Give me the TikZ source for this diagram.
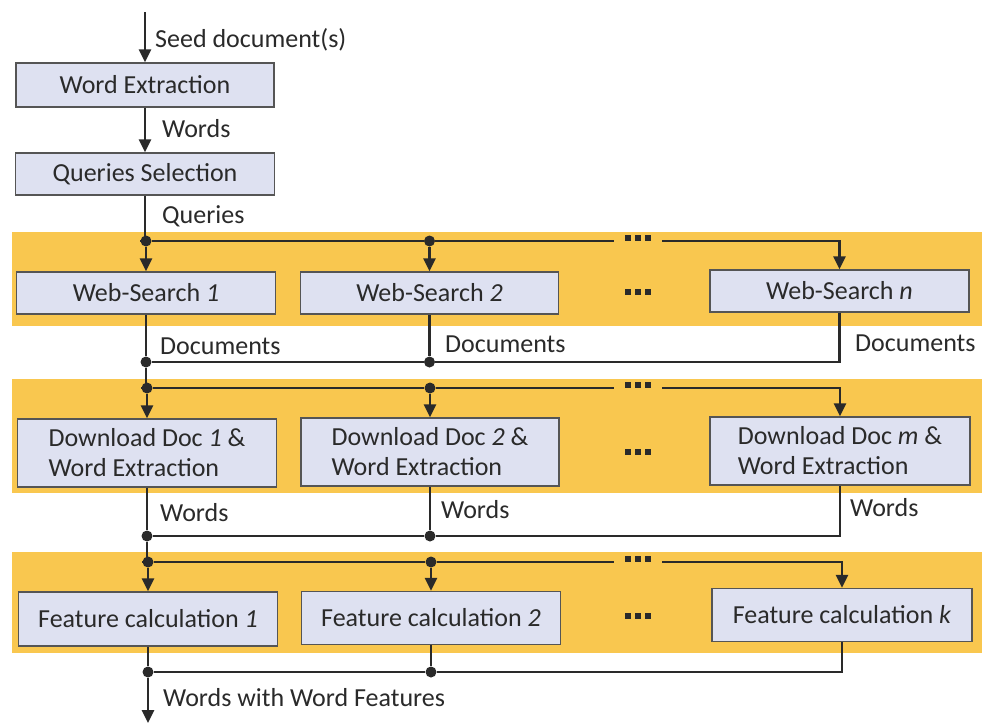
\documentclass[tikz,border=0pt]{standalone}
\usepackage{fontspec}
\setmainfont{Carlito}
\usetikzlibrary{arrows.meta}
\definecolor{bandc}{HTML}{F9C74F}
\definecolor{boxc}{HTML}{DEE1F1}
\definecolor{linec}{HTML}{2A2A2A}
\definecolor{boxd}{HTML}{555555}
\tikzset{
  x=1pt,y=-1pt,
  every node/.style={font=\fontsize{26}{30}\selectfont, text=linec, inner sep=0pt},
  proc/.style={draw=boxd, line width=1.5pt, fill=boxc},
  wire/.style={draw=linec, line width=2.6pt},
  arr/.style={wire, -{Triangle[length=13pt,width=12pt]}},
  jdot/.style={circle, fill=linec, minimum size=11pt, inner sep=0pt},
  lbl/.style={anchor=west},
  band/.style={fill=bandc, draw=none},
  dotsn/.style={inner sep=2pt},
  gapdots/.style={inner xsep=11pt, inner ysep=2pt}
}
\newcommand{\sqdots}{\rule{6pt}{6pt}\hspace{4pt}\rule{6pt}{6pt}\hspace{4pt}\rule{6pt}{6pt}}
\begin{document}
\begin{tikzpicture}
\useasboundingbox (0,0) rectangle (982,724);
\fill[white] (0,0) rectangle (982,724);
% bands
\fill[band] (12,232) rectangle (982,326);
\fill[band] (12,379) rectangle (982,493);
\fill[band] (12,552) rectangle (982,653);
% boxes
\node[proc, minimum width=258pt, minimum height=44pt] (we) at (145,85) {Word Extraction};
\node[proc, minimum width=259pt, minimum height=42pt] (qs) at (145,174) {Queries Selection};
\node[proc, minimum width=259pt, minimum height=42pt] (ws1) at (146,293) {Web-Search \textit{1}};
\node[proc, minimum width=258pt, minimum height=42pt] (ws2) at (429.5,293) {Web-Search \textit{2}};
\node[proc, minimum width=259pt, minimum height=42pt] (wsn) at (839.5,291) {Web-Search \textit{n}};
\node[dotsn] (e1) at (638,292) {\sqdots};
\node[proc, minimum width=259pt, minimum height=68pt, align=left] (dd1) at (147,453) {Download Doc \textit{1} \&\\Word Extraction};
\node[proc, minimum width=258pt, minimum height=68pt, align=left] (dd2) at (430,452) {Download Doc \textit{2} \&\\Word Extraction};
\node[proc, minimum width=260pt, minimum height=68pt, align=left] (ddm) at (840,451) {Download Doc \textit{m} \&\\Word Extraction};
\node[dotsn] (e2) at (638,452) {\sqdots};
\node[proc, minimum width=259pt, minimum height=54pt] (fc1) at (148,619) {Feature calculation \textit{1}};
\node[proc, minimum width=259pt, minimum height=53pt] (fc2) at (431,618) {Feature calculation \textit{2}};
\node[proc, minimum width=260pt, minimum height=53pt] (fck) at (842,615) {Feature calculation \textit{k}};
\node[dotsn] (e3) at (638,616) {\sqdots};
% top chain
\coordinate (s0) at (145,12);
\draw[arr] (s0) -- (we.north);
\node[lbl] (tseed) at (155,40) {Seed document(s)};
\draw[arr] (we.south) -- (qs.north);
\node[lbl] (twords0) at (162,129) {Words};
\node[lbl] (tq) at (162,216) {Queries};
% stage 1 distribution
\node[jdot] (a1) at (146,241) {};
\node[jdot] (a2) at (429.5,241) {};
\coordinate (a3) at (839.5,241);
\node[gapdots] (ea) at (638,238) {\sqdots};
\draw[wire] (qs.south) -- (qs.south |- a1) -- (a1);
\draw[arr] (a1) -- (ws1.north);
\draw[arr] (a2) -- (ws2.north);
\draw[wire] (a1) -- (a2) -- (ea.west |- a1);
\draw[arr] (ea.east |- a1) -- (a3) -- (wsn.north);
% stage 1 collection
\node[jdot] (b1) at (146,362) {};
\node[jdot] (b2) at (429.5,362) {};
\coordinate (b3) at (839.5,362);
\draw[wire] (ws1.south) -- (b1);
\draw[wire] (ws2.south) -- (b2);
\draw[wire] (wsn.south) -- (b3) -- (b2) -- (b1);
\node[lbl] (td1) at (160,346) {Documents};
\node[lbl] (td2) at (445,344) {Documents};
\node[lbl] (td3) at (855,343) {Documents};
% stage 2 distribution
\node[jdot] (c1) at (147,388) {};
\node[jdot] (c2) at (430,388) {};
\coordinate (c3) at (840,388);
\node[gapdots] (ec) at (638,385) {\sqdots};
\draw[wire] (b1) -- (b1 |- c1) -- (c1);
\draw[arr] (c1) -- (dd1.north);
\draw[arr] (c2) -- (dd2.north);
\draw[wire] (c1) -- (c2) -- (ec.west |- c1);
\draw[arr] (ec.east |- c1) -- (c3) -- (ddm.north);
% stage 2 collection
\node[jdot] (d1) at (147,536) {};
\node[jdot] (d2) at (430,536) {};
\coordinate (d3) at (840,536);
\draw[wire] (dd1.south) -- (d1);
\draw[wire] (dd2.south) -- (d2);
\draw[wire] (ddm.south) -- (d3) -- (d2) -- (d1);
\node[lbl] (tw1) at (160,513) {Words};
\node[lbl] (tw2) at (441,510) {Words};
\node[lbl] (tw3) at (850,508) {Words};
% stage 3 distribution
\node[jdot] (f1) at (148,562) {};
\node[jdot] (f2) at (431,562) {};
\coordinate (f3) at (842,562);
\node[gapdots] (ef) at (638,559) {\sqdots};
\draw[wire] (d1) -- (d1 |- f1) -- (f1);
\draw[arr] (f1) -- (fc1.north);
\draw[arr] (f2) -- (fc2.north);
\draw[wire] (f1) -- (f2) -- (ef.west |- f1);
\draw[arr] (ef.east |- f1) -- (f3) -- (fck.north);
% stage 3 collection
\node[jdot] (g1) at (148,672) {};
\node[jdot] (g2) at (431,672) {};
\coordinate (g3) at (842,672);
\draw[wire] (fc1.south) -- (g1);
\draw[wire] (fc2.south) -- (g2);
\draw[wire] (fck.south) -- (g3) -- (g2) -- (g1);
\coordinate (out) at (148,723);
\draw[arr] (g1) -- (out);
\node[lbl] (tout) at (163,698) {Words with Word Features};
\end{tikzpicture}
\end{document}
